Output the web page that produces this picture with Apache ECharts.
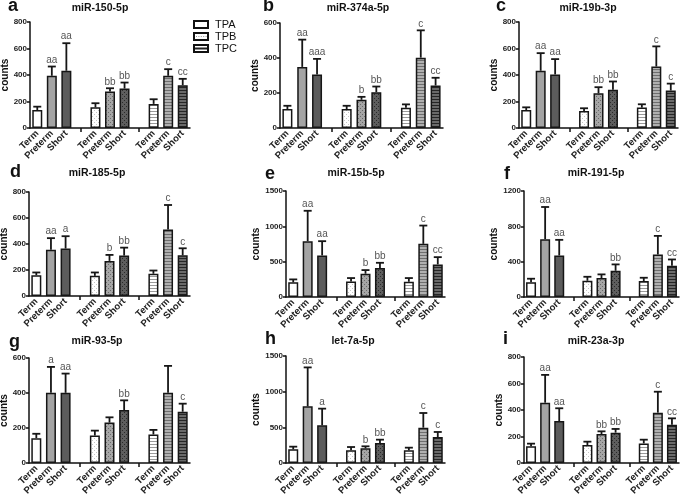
<!DOCTYPE html>
<html><head><meta charset="utf-8">
<script src="https://cdn.jsdelivr.net/npm/echarts@6/dist/echarts.min.js"></script>
<style>html,body{margin:0;padding:0;background:#fff}#c{width:685px;height:496px}</style>
</head><body><div id="c"></div>
<script>
// ---- data ----
const titles = ['miR-150-5p','miR-374a-5p','miR-19b-3p','miR-185-5p','miR-15b-5p','miR-191-5p','miR-93-5p','let-7a-5p','miR-23a-3p'];
const panelTags = ['a','b','c','d','e','f','g','h','i'];
const groups = ['TPA','TPB','TPC'];
const xLabels = ['Term','Preterm','Short'];
const yMaxes = [800,600,800,800,1500,1200,600,1500,800];
const yIntervals = [200,200,200,200,500,400,200,500,200];

const mean150 = [136,394,432, 156,275,298, 182,394,323];
const err150  = [161,464,640, 187,300,343, 217,444,371];
const sig150  = ['','aa','aa', '','bb','bb', '','c','cc'];

const mean374 = [108,349,306, 108,161,205, 116,402,243];
const err374  = [127,505,395, 127,178,237, 135,558,287];
const sig374  = ['','aa','aaa', '','b','bb', '','c','cc'];

const mean19b = [136,432,404, 129,262,288, 154,464,283];
const err19b  = [156,565,520, 149,308,351, 179,616,335];
const sig19b  = ['','aa','aa', '','bb','bb', '','c','c'];

const mean185 = [160,355,365, 155,270,311, 171,512,313];
const err185  = [181,445,460, 181,316,372, 196,700,367];
const sig185  = ['','aa','a', '','b','bb', '','c','c'];

const mean15b = [207,790,588, 221,329,409, 216,752,461];
const err15b  = [249,1220,790, 268,381,484, 268,1011,564];
const sig15b  = ['','aa','aa', '','b','bb', '','c','cc'];

const mean191 = [166,655,470, 184,214,297, 180,481,354];
const err191  = [207,1019,647, 229,256,369, 218,692,425];
const sig191  = ['','aa','aa', '','','bb', '','c','cc'];

const mean93 = [142,401,401, 157,231,303, 163,401,293];
const err93  = [167,549,511, 185,261,358, 189,555,339];
const sig93  = ['','a','aa', '','','bb', '','','c'];

const meanLet7a = [192,794,528, 178,206,280, 178,495,364];
const errLet7a  = [229,1340,762, 224,234,327, 215,701,435];
const sigLet7a  = ['','aa','a', '','b','bb', '','c','c'];

const mean23a = [126,455,317, 136,219,229, 148,380,289];
const err23a  = [146,665,413, 161,239,257, 176,538,337];
const sig23a  = ['','aa','aa', '','bb','bb', '','c','cc'];

const panelMeans = [mean150,mean374,mean19b,mean185,mean15b,mean191,mean93,meanLet7a,mean23a];
const panelErrs  = [err150,err374,err19b,err185,err15b,err191,err93,errLet7a,err23a];
const panelSigs  = [sig150,sig374,sig19b,sig185,sig15b,sig191,sig93,sigLet7a,sig23a];

// ---- layout / style ----
const grids = [
  {left:30, top:22, width:160, height:106},
  {left:280,top:23, width:163, height:105},
  {left:519,top:22, width:159, height:106},
  {left:29, top:192,width:161, height:104},
  {left:286,top:191,width:159, height:106},
  {left:524,top:191,width:155, height:106},
  {left:29, top:358,width:161, height:105},
  {left:286,top:356,width:159, height:107},
  {left:524,top:357,width:155, height:106}
];
const titlePos = [[100,8],[358,8],[588,8],[97,173],[356,173],[596,173],[97,341],[353,341],[596,341]];
const tagPos = [[8,6],[263,6],[496,6],[10,172],[265,174],[504,174],[9,342],[265,339],[503,339]];

function pat(bg, fg, kind){
  const c = document.createElement('canvas');
  const x = c.getContext('2d');
  if(kind==='dot'){
    c.width=4; c.height=4;
    x.fillStyle=bg; x.fillRect(0,0,4,4);
    x.fillStyle=fg; x.fillRect(0,0,1,1); x.fillRect(2,2,1,1);
  } else if(kind==='line'){
    c.width=4; c.height=3;
    x.fillStyle=bg; x.fillRect(0,0,4,3);
    x.fillStyle=fg; x.fillRect(0,0,4,1);
  } else {
    c.width=2; c.height=2; x.fillStyle=bg; x.fillRect(0,0,2,2);
  }
  return {image:c, repeat:'repeat'};
}
const fills = [
  '#ffffff', '#a4a4a4', '#5c5c5c',
  pat('#ffffff','#c4c4c4','dot'), pat('#a6a6a6','#6a6a6a','dot'), pat('#5e5e5e','#2a2a2a','dot'),
  pat('#ffffff','#9a9a9a','line'), pat('#b0b0b0','#6e6e6e','line'), pat('#6a6a6a','#262626','line')
];
const slotOf = i => i + Math.floor(i/3);
const slotLabels = [...xLabels,'',...xLabels,'',...xLabels];
const cats = slotLabels.map((_,k)=>String(k));

const option = {
  animation:false,
  backgroundColor:'#fff',
  grid: grids.map(g=>Object.assign({containLabel:false, outerBoundsMode:'none'}, g)),
  xAxis: grids.map((g,p)=>({
    type:'category', gridIndex:p, data:cats,
    axisLine:{lineStyle:{color:'#111', width:1.5}},
    axisTick:{show:true, alignWithLabel:true, length:4, interval:(idx)=>idx===3||idx===7, lineStyle:{color:'#111',width:1.5}},
    axisLabel:{interval:0, rotate:45, fontSize:9.5, fontWeight:'bold', color:'#222', margin:4, fontFamily:'Arial',
      formatter:(v,idx)=>slotLabels[+v]},
    splitLine:{show:false}
  })),
  yAxis: grids.map((g,p)=>({
    type:'value', gridIndex:p, min:0, max:yMaxes[p], interval:yIntervals[p],
    name:'counts', nameLocation:'middle', nameGap:20, nameRotate:90,
    nameTextStyle:{fontSize:10, fontWeight:'bold', color:'#111', fontFamily:'Arial'},
    axisLine:{show:true, lineStyle:{color:'#111', width:1.5}},
    axisTick:{show:true, length:3, lineStyle:{color:'#111', width:1.5}},
    axisLabel:{fontSize:8, fontWeight:'bold', color:'#222', margin:3, fontFamily:'Arial', formatter:v=>String(v)},
    splitLine:{show:false}
  })),
  series: [],
  graphic: []
};

for(let p=0;p<9;p++){
  const m = panelMeans[p], e = panelErrs[p], s = panelSigs[p];
  const barData = cats.map(()=>'-');
  const errData = [];
  for(let i=0;i<9;i++){
    barData[slotOf(i)] = {value:m[i], itemStyle:{color:fills[i]}};
    errData.push([slotOf(i), m[i], e[i], s[i]]);
  }
  option.series.push({
    type:'bar', xAxisIndex:p, yAxisIndex:p, data:barData, barWidth:10,
    itemStyle:{borderColor:'#161616', borderWidth:1.5}, z:2
  });
  option.series.push({
    type:'custom', xAxisIndex:p, yAxisIndex:p, data:errData, z:3,
    encode:{x:0, y:[1,2]},
    renderItem:(params, api)=>{
      const xi = api.value(0);
      const p0 = api.coord([xi, api.value(1)]);
      const p1 = api.coord([xi, api.value(2)]);
      const sig = errData[params.dataIndex][3];
      const st = {stroke:'#161616', lineWidth:1.8};
      return {type:'group', children:[
        {type:'line', shape:{x1:p0[0], y1:p0[1], x2:p0[0], y2:p1[1]}, style:st},
        {type:'line', shape:{x1:p0[0]-4, y1:p1[1], x2:p0[0]+4, y2:p1[1]}, style:st},
        {type:'text', x:p0[0], y:p1[1]-1.5, style:{text:sig, textAlign:'center', textVerticalAlign:'bottom', fill:'#555', font:'10px Arial'}}
      ]};
    }
  });
  option.graphic.push({type:'text', x:titlePos[p][0], y:titlePos[p][1],
    style:{text:titles[p], textAlign:'center', textVerticalAlign:'middle', font:'bold 10.5px Arial', fill:'#111'}});
  option.graphic.push({type:'text', x:tagPos[p][0], y:tagPos[p][1],
    style:{text:panelTags[p], textAlign:'left', textVerticalAlign:'middle', font:'bold 18px Arial', fill:'#111'}});
}
// legend
groups.forEach((gname,k)=>{
  const y = 21 + k*12;
  option.graphic.push({type:'rect', shape:{x:194, y:y, width:14, height:7},
    style:{fill:'#fff', stroke:'#111', lineWidth:2}});
  if(k===1){
    for(let d=0; d<5; d++) option.graphic.push({type:'rect', shape:{x:196+d*2.4, y:y+3, width:1, height:1}, style:{fill:'#999'}});
  } else if(k===2){
    option.graphic.push({type:'rect', shape:{x:195, y:y+2.5, width:12, height:2}, style:{fill:'#222'}});
  }
  option.graphic.push({type:'text', x:215, y:y+3.5,
    style:{text:gname, textAlign:'left', textVerticalAlign:'middle', font:'11px Arial', fill:'#111'}});
});

const chart = echarts.init(document.getElementById('c'), null, {renderer:'canvas'});
chart.setOption(option);
</script>
</body></html>
